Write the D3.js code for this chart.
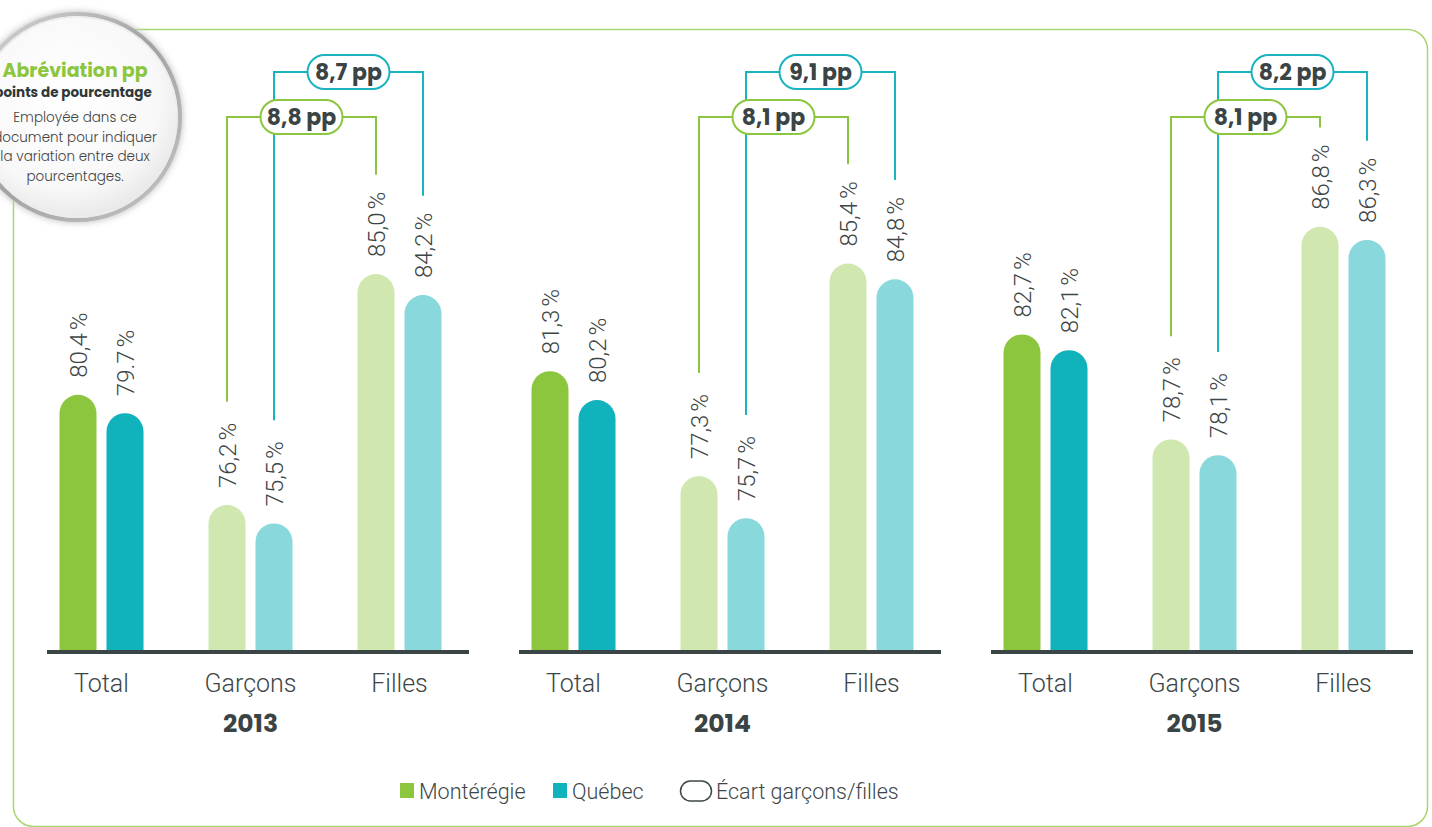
<!DOCTYPE html>
<html lang="fr">

<head>
  <meta charset="utf-8">
  <title>Taux de diplomation</title>
  <script src="https://cdn.jsdelivr.net/npm/d3@7"></script>
  <style>
    body { margin: 0; background: #fff; }
    svg { display: block; font-family: Poppins, Roboto, "Open Sans", sans-serif; }
    .val { font-family: Roboto, sans-serif; font-weight: 300; font-size: 24px; fill: #3d4646; }
    .cat { font-family: Roboto, sans-serif; font-weight: 300; font-size: 25px; fill: #3d4646; }
    .year { font-family: Poppins, Roboto, sans-serif; font-weight: 700; font-size: 25px; fill: #3a4444; }
    .pill-text { font-family: Poppins, Roboto, sans-serif; font-weight: 700; font-size: 22px; fill: #3a4444; }
    .legend { font-family: Roboto, sans-serif; font-weight: 300; font-size: 21.5px; fill: #3d4646; }
    .badge { font-family: Poppins, Roboto, sans-serif; }
  </style>
</head>

<body>
  <script>
    var years = ["2013", "2014", "2015"];
    var categories = ["Total", "Garçons", "Filles"];
    var series = ["Montérégie", "Québec"];
    // one row per year, one value per category
    var monteregie = [[80.4, 76.2, 85.0], [81.3, 77.3, 85.4], [82.7, 78.7, 86.8]];
    var quebec = [[79.7, 75.5, 84.2], [80.2, 75.7, 84.8], [82.1, 78.1, 86.3]];
    var monteregieLabels = [["80,4\u202F%", "76,2\u202F%", "85,0\u202F%"], ["81,3\u202F%", "77,3\u202F%", "85,4\u202F%"], ["82,7\u202F%", "78,7\u202F%", "86,8\u202F%"]];
    var quebecLabels = [["79.7\u202F%", "75,5\u202F%", "84,2\u202F%"], ["80,2\u202F%", "75,7\u202F%", "84,8\u202F%"], ["82,1\u202F%", "78,1\u202F%", "86,3\u202F%"]];
    var ecartMonteregie = ["8,8 pp", "8,1 pp", "8,1 pp"];
    var ecartQuebec = ["8,7 pp", "9,1 pp", "8,2 pp"];

    var w = 1432;
    var h = 827;
    var baseline = 652;

    var strong = { "Montérégie": "#8cc63f", "Québec": "#10b2bb" };
    var light = { "Montérégie": "#d0e8b0", "Québec": "#88d8dc" };
    var bracketColor = { "Montérégie": "#8cc640", "Québec": "#1ab3bf" };
    var pillY = { "Montérégie": 117, "Québec": 72 };

    var svg = d3.select("body").append("svg")
                .attr("width", w)
                .attr("height", h);

    // frame
    svg.append("rect")
       .attr("x", 13.5)
       .attr("y", 29.5)
       .attr("width", 1414)
       .attr("height", 797)
       .attr("rx", 20)
       .attr("fill", "none")
       .attr("stroke", "#a9d572")
       .attr("stroke-width", 1.5);

    var x0 = d3.scaleBand()
               .domain(years)
               .range([14.5, 1430.5]);
    var x1 = d3.scaleBand()
               .domain(categories)
               .range([12.5, 459.5]);
    var x2 = d3.scaleBand()
               .domain(series)
               .range([-42, 42])
               .paddingInner(10 / 47);
    var y = d3.scaleLinear()
              .domain([70.6, 86.8])
              .range([baseline, baseline - 16.2 * 26.25]);

    function barPath(x, top, bw, bottom) {
      var r = bw / 2;
      return "M" + x + "," + bottom +
             "V" + (top + r) +
             "A" + r + "," + r + " 0 0 1 " + (x + bw) + "," + (top + r) +
             "V" + bottom + "Z";
    }

    function catCenter(yi, ci) {
      return x0(years[yi]) + x1(categories[ci]) + x1.bandwidth() / 2;
    }
    function barCenter(yi, ci, s) {
      return catCenter(yi, ci) + x2(s) + x2.bandwidth() / 2;
    }

    var rows = [];
    years.forEach(function (yr, yi) {
      categories.forEach(function (cat, ci) {
        rows.push({ yi: yi, ci: ci, s: "Montérégie", value: monteregie[yi][ci], label: monteregieLabels[yi][ci] });
        rows.push({ yi: yi, ci: ci, s: "Québec", value: quebec[yi][ci], label: quebecLabels[yi][ci] });
      });
    });

    var chart = svg.append("g").classed("display", true);

    chart.selectAll(".bar")
         .data(rows)
         .enter()
           .append("path")
           .classed("bar", true)
           .attr("d", function (d) {
             var bw = x2.bandwidth();
             return barPath(barCenter(d.yi, d.ci, d.s) - bw / 2, y(d.value), bw, baseline);
           })
           .attr("fill", function (d) {
             return d.ci === 0 ? strong[d.s] : light[d.s];
           });

    var labels = chart.selectAll(".val")
         .data(rows)
         .enter()
           .append("text")
           .classed("val", true)
           .attr("transform", function (d) {
             return "translate(" + barCenter(d.yi, d.ci, d.s) + "," + (y(d.value) - 17) + ") rotate(-90)";
           })
           .attr("dy", "0.36em")
           .text(function (d) { return d.label; });

    // top of each label, used to stop bracket lines above it
    var labelTop = {};
    labels.each(function (d) {
      labelTop[d.yi + "-" + d.ci + "-" + d.s] = y(d.value) - 17 - this.getComputedTextLength();
    });

    // axis lines and category labels
    years.forEach(function (yr, yi) {
      var g = svg.append("g")
                 .attr("transform", "translate(" + x0(yr) + ",0)");
      g.append("line")
       .attr("x1", x1.range()[0] + 20)
       .attr("x2", x1.range()[1] - 5)
       .attr("y1", baseline)
       .attr("y2", baseline)
       .attr("stroke", "#3b4545")
       .attr("stroke-width", 4);
      var xAxis = d3.axisBottom(x1).tickSize(0).tickPadding(0);
      var ax = g.append("g")
                .attr("transform", "translate(0," + (baseline + 31) + ")")
                .call(xAxis);
      ax.select(".domain").remove();
      ax.selectAll("text")
        .attr("class", "cat")
        .attr("dy", "0.35em")
        .attr("y", 0);
      g.append("text")
       .classed("year", true)
       .attr("x", x0.bandwidth() / 2)
       .attr("y", 732)
       .attr("text-anchor", "middle")
       .text(yr);
    });

    // brackets: gap between boys and girls (lines first, pills on top)
    var lines = svg.append("g");
    var pills = svg.append("g");
    years.forEach(function (yr, yi) {
      series.forEach(function (s) {
        var xl = barCenter(yi, 1, s);
        var xr = barCenter(yi, 2, s);
        var py = pillY[s];
        var bl = labelTop[yi + "-1-" + s] - 21;
        var br = labelTop[yi + "-2-" + s] - 17;
        var txt = s === "Montérégie" ? ecartMonteregie[yi] : ecartQuebec[yi];
        lines.append("path")
             .attr("d", "M" + xl + "," + bl + "V" + py + "H" + xr + "V" + br)
             .attr("fill", "none")
             .attr("stroke", bracketColor[s])
             .attr("stroke-width", 2);
        var cx = (xl + xr) / 2;
        pills.append("rect")
             .attr("x", cx - 41)
             .attr("y", py - 17)
             .attr("width", 82)
             .attr("height", 34)
             .attr("rx", 17)
             .attr("fill", "#fff")
             .attr("stroke", bracketColor[s])
             .attr("stroke-width", 2);
        pills.append("text")
             .classed("pill-text", true)
             .attr("x", cx)
             .attr("y", py)
             .attr("dy", "0.36em")
             .attr("text-anchor", "middle")
             .text(txt);
      });
    });

    // legend
    var legend = svg.append("g").attr("transform", "translate(0,791)");
    legend.append("rect").attr("x", 400).attr("y", -8).attr("width", 14).attr("height", 15).attr("fill", strong["Montérégie"]);
    legend.append("text").classed("legend", true).attr("x", 419).attr("dy", "0.35em").text("Montérégie");
    legend.append("rect").attr("x", 553).attr("y", -8).attr("width", 14).attr("height", 15).attr("fill", strong["Québec"]);
    legend.append("text").classed("legend", true).attr("x", 572).attr("dy", "0.35em").text("Québec");
    legend.append("rect").attr("x", 680.5).attr("y", -10).attr("width", 31).attr("height", 20).attr("rx", 10)
          .attr("fill", "none").attr("stroke", "#3d4646").attr("stroke-width", 1.5);
    legend.append("text").classed("legend", true).attr("x", 716).attr("dy", "0.35em").text("Écart garçons/filles");

    // badge
    var defs = svg.append("defs");
    var rg = defs.append("radialGradient").attr("id", "badgeFill").attr("cx", "45%").attr("cy", "40%").attr("r", "60%");
    rg.append("stop").attr("offset", "0%").attr("stop-color", "#ffffff");
    rg.append("stop").attr("offset", "75%").attr("stop-color", "#f8f8f8");
    rg.append("stop").attr("offset", "100%").attr("stop-color", "#e8e8e8");
    var ring = defs.append("linearGradient").attr("id", "badgeRing").attr("x1", "0").attr("y1", "0").attr("x2", "1").attr("y2", "1");
    ring.append("stop").attr("offset", "0%").attr("stop-color", "#d6d6d6");
    ring.append("stop").attr("offset", "50%").attr("stop-color", "#a3a3a3");
    ring.append("stop").attr("offset", "100%").attr("stop-color", "#c4c4c4");
    var filter = defs.append("filter").attr("id", "badgeShadow").attr("x", "-20%").attr("y", "-20%").attr("width", "140%").attr("height", "140%");
    filter.append("feGaussianBlur").attr("stdDeviation", 3);

    var badge = svg.append("g").classed("badge", true).attr("transform", "translate(77,117)");
    badge.append("circle").attr("r", 106).attr("fill", "#c8c8c8").attr("filter", "url(#badgeShadow)");
    badge.append("circle").attr("r", 103).attr("fill", "url(#badgeFill)")
         .attr("stroke", "url(#badgeRing)").attr("stroke-width", 4);
    badge.append("circle").attr("r", 100).attr("fill", "none").attr("stroke", "#ececec").attr("stroke-width", 1.5);
    badge.append("text").attr("x", -2).attr("y", -40).attr("text-anchor", "middle")
         .attr("font-size", 19).attr("font-weight", 700).attr("fill", "#8cc63f").text("Abréviation pp");
    badge.append("text").attr("x", -4).attr("y", -20).attr("text-anchor", "middle")
         .attr("font-size", 13.5).attr("font-weight", 700).attr("fill", "#2f3838").text("points de pourcentage");
    var body = ["Employée dans ce", "document pour indiquer", "la variation entre deux", "pourcentages."];
    badge.selectAll(".note")
         .data(body)
         .enter()
           .append("text")
           .attr("x", -2)
           .attr("y", function (d, i) { return 5 + i * 19.5; })
           .attr("text-anchor", "middle")
           .attr("font-size", 13.5)
           .attr("font-weight", 300)
           .attr("fill", "#444")
           .text(function (d) { return d; });
  </script>
</body>

</html>
